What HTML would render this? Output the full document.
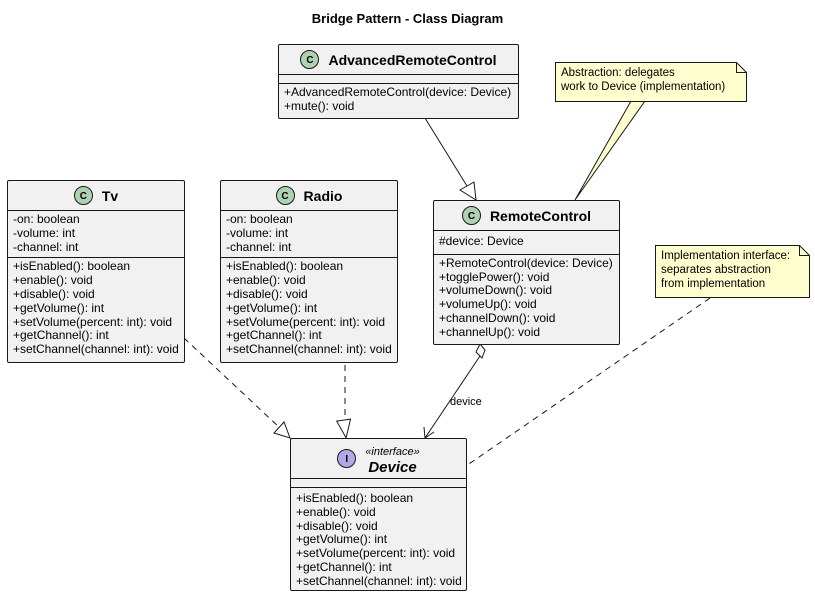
<!DOCTYPE html>
<html><head><meta charset="utf-8"><style>
body{margin:0;width:815px;height:596px;background:#fff;position:relative;overflow:hidden;font-family:"Liberation Sans",sans-serif;font-size:12px;color:#000}
.box{position:absolute;background:#f1f1f1;border:1px solid #181818;border-radius:2px;box-sizing:border-box}
.hd{height:30px;display:flex;align-items:center;justify-content:center;font-weight:bold;font-size:14px;border-bottom:1px solid #181818;box-sizing:border-box}
.c{width:19px;height:19px;border-radius:50%;background:#add1b2;border:1px solid #181818;box-sizing:border-box;display:inline-block;text-align:center;font-size:10px;line-height:19px;font-weight:bold;margin-right:9px}
.sec{border-bottom:1px solid #181818;padding:2px 5px 3px;line-height:13.8px;white-space:nowrap}
.sec:last-child{border-bottom:none}
.empty{height:8px;border-bottom:1px solid #181818}
.nt{position:absolute;line-height:13.8px;font-size:11.5px;white-space:nowrap}
</style></head><body>
<div style="position:absolute;top:11px;left:0;width:815px;text-align:center;font-weight:bold;font-size:13px">Bridge Pattern - Class Diagram</div>

<svg width="815" height="596" style="position:absolute;left:0;top:0">
<g stroke="#181818" fill="none" stroke-width="1">
<line x1="425" y1="118" x2="467" y2="186"/>
<polygon points="460,190 476,200 474,182" fill="#fff"/>
<polygon points="631,101 645,101 575,200" fill="#fefece"/>
<line x1="184" y1="338" x2="280" y2="428" stroke-dasharray="6,5"/>
<polygon points="274,433 290,438 284,422" fill="#fff"/>
<line x1="345" y1="365" x2="345" y2="420" stroke-dasharray="6,5"/>
<polygon points="338,420 352,420 345,438" fill="#fff" transform="rotate(-8 345 430)"/>
<line x1="480" y1="356" x2="425" y2="438"/>
<polyline points="424,427 425,438 434,432"/>
<polygon points="480,344 485,350 482,358 476,352" fill="#fff"/>
<line x1="710" y1="298" x2="466" y2="466" stroke-dasharray="6,5"/>
<polygon points="555.5,62.5 736.5,62.5 746.5,72.5 746.5,101.5 555.5,101.5" fill="#fefece"/>
<polyline points="736.5,62.5 736.5,72.5 746.5,72.5"/>
<polygon points="655.5,245.5 799.5,245.5 809.5,255.5 809.5,297.5 655.5,297.5" fill="#fefece"/>
<polyline points="799.5,245.5 799.5,255.5 809.5,255.5"/>
</g>
<text x="450" y="405" font-family="Liberation Sans" font-size="11">device</text>
</svg>

<div class="box" style="left:278px;top:44px;width:241px;height:75px">
<div class="hd"><span class="c">C</span>AdvancedRemoteControl</div>
<div class="empty"></div>
<div class="sec">+AdvancedRemoteControl(device: Device)<br>+mute(): void</div></div>

<div class="box" style="left:7px;top:180px;width:178px;height:183px">
<div class="hd"><span class="c">C</span>Tv</div>
<div class="sec">-on: boolean<br>-volume: int<br>-channel: int</div>
<div class="sec">+isEnabled(): boolean<br>+enable(): void<br>+disable(): void<br>+getVolume(): int<br>+setVolume(percent: int): void<br>+getChannel(): int<br>+setChannel(channel: int): void</div></div>

<div class="box" style="left:220px;top:180px;width:178px;height:183px">
<div class="hd"><span class="c">C</span>Radio</div>
<div class="sec">-on: boolean<br>-volume: int<br>-channel: int</div>
<div class="sec">+isEnabled(): boolean<br>+enable(): void<br>+disable(): void<br>+getVolume(): int<br>+setVolume(percent: int): void<br>+getChannel(): int<br>+setChannel(channel: int): void</div></div>

<div class="box" style="left:433px;top:200px;width:187px;height:145px">
<div class="hd"><span class="c">C</span>RemoteControl</div>
<div class="sec" style="padding:4px 5px 5px">#device: Device</div>
<div class="sec">+RemoteControl(device: Device)<br>+togglePower(): void<br>+volumeDown(): void<br>+volumeUp(): void<br>+channelDown(): void<br>+channelUp(): void</div></div>

<div class="box" style="left:290px;top:438px;width:177px;height:153px">
<div class="hd" style="height:40px"><span class="c" style="background:#b4a7e5">I</span><span style="text-align:center;line-height:15px"><span style="font-weight:normal;font-style:italic;font-size:11px">«interface»</span><br><i style="font-size:15px">Device</i></span></div>
<div class="empty"></div>
<div class="sec" style="padding-top:4px">+isEnabled(): boolean<br>+enable(): void<br>+disable(): void<br>+getVolume(): int<br>+setVolume(percent: int): void<br>+getChannel(): int<br>+setChannel(channel: int): void</div></div>

<div class="nt" style="left:561px;top:67px">Abstraction: delegates<br>work to Device (implementation)</div>
<div class="nt" style="left:661px;top:250px">Implementation interface:<br>separates abstraction<br>from implementation</div>
</body></html>
